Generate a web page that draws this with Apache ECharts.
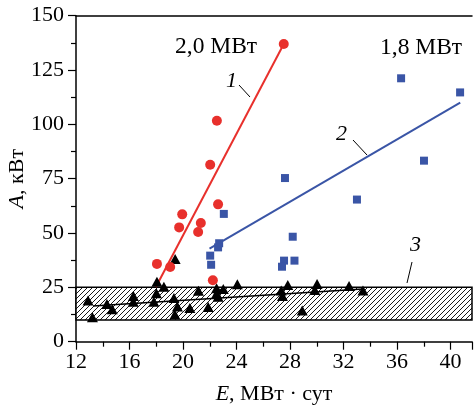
<!DOCTYPE html>
<html>
<head>
<meta charset="utf-8">
<script src="https://cdn.jsdelivr.net/npm/echarts@6/dist/echarts.min.js"></script>
<style>
html,body{margin:0;padding:0;background:#fff;}
#c{width:474px;height:406px;}
</style>
</head>
<body>
<div id="c"></div>
<script>
// ---- data ----
const xTicks = [12, 16, 20, 24, 28, 32, 36, 40];
const yTicks = [0, 25, 50, 75, 100, 125, 150];
const red20 = [
  [27.53, 137.0], [22.53, 101.7], [22.62, 63.2], [22.03, 81.4], [19.94, 58.6],
  [21.33, 54.6], [19.71, 52.6], [21.13, 50.5], [18.05, 35.8], [19.04, 34.4], [22.23, 28.3]
];
const blue18 = [
  [36.30, 121.2], [40.71, 114.7], [38.01, 83.3], [33.00, 65.4], [27.62, 75.3],
  [28.20, 48.3], [23.05, 58.8], [22.70, 45.3], [22.62, 43.4], [22.03, 39.6],
  [22.10, 35.4], [27.55, 37.3], [28.33, 37.3], [27.40, 34.5]
];
const black3 = [
  [12.90, 19.0], [13.23, 11.3], [14.31, 17.3], [14.71, 14.9], [16.29, 21.0],
  [16.28, 18.4], [18.05, 27.6], [18.57, 25.3], [18.01, 22.3], [17.82, 18.4],
  [19.41, 38.1], [19.32, 20.1], [19.58, 16.2], [19.39, 12.5], [20.51, 15.5],
  [21.15, 23.5], [21.88, 16.0], [22.51, 24.6], [22.51, 22.2], [22.62, 20.7],
  [23.01, 24.2], [24.06, 26.4], [27.34, 23.6], [27.43, 21.0], [27.83, 26.1],
  [28.91, 14.4], [30.02, 26.5], [29.85, 23.8], [32.41, 25.6], [33.45, 23.6]
];
const fit1 = [[17.97, 25.2], [27.53, 137.0]];
const fit2 = [[21.98, 42.8], [40.72, 110.0]];
const fit3 = [[13.27, 16.4], [33.43, 24.25]];
const band = [10, 25];

// ---- chart ----
const FONT = 'Liberation Serif';
const chart = echarts.init(document.getElementById('c'));

const pc = document.createElement('canvas');
pc.width = 5; pc.height = 5;
const g = pc.getContext('2d');
g.fillStyle = '#fff'; g.fillRect(0, 0, 5, 5);
g.strokeStyle = '#000'; g.lineWidth = 0.9;
g.beginPath();
g.moveTo(-1, 6); g.lineTo(6, -1);
g.moveTo(-6, 6); g.lineTo(1, -1);
g.moveTo(4, 6); g.lineTo(11, -1);
g.stroke();

chart.setOption({
  animation: false,
  backgroundColor: '#fff',
  grid: {left: 76, top: 15.7, right: 2, bottom: 64.3, containLabel: false, outerBoundsMode: 'none'},
  xAxis: [{
    type: 'value', min: 12, max: 41.6, interval: 4,
    axisLine: {onZero: false, lineStyle: {color: '#000', width: 1.5}},
    axisTick: {show: true, length: 8, lineStyle: {color: '#000', width: 1.2}},
    minorTick: {show: true, splitNumber: 2, length: 5, lineStyle: {color: '#000', width: 1.2}},
    splitLine: {show: false},
    axisLabel: {
      margin: 10, color: '#000', fontFamily: FONT, fontSize: 22,
      showMaxLabel: false,
      formatter: v => xTicks.includes(v) ? String(v) : ''
    },
    name: '{i|E}, МВт · сут',
    nameLocation: 'middle', nameGap: 42, nameMoveOverlap: false,
    nameTextStyle: {color: '#000', fontFamily: FONT, fontSize: 22,
      rich: {i: {fontStyle: 'italic', fontFamily: FONT, fontSize: 22, color: '#000'}}}
  }, {
    type: 'value', min: 12, max: 41.6, position: 'top',
    axisLine: {show: true, onZero: false, lineStyle: {color: '#000', width: 1.5}},
    axisTick: {show: false}, axisLabel: {show: false}, splitLine: {show: false}
  }],
  yAxis: {
    type: 'value', min: 0, max: 150, interval: 25,
    axisLine: {show: true, onZero: false, lineStyle: {color: '#000', width: 1.5}},
    axisTick: {show: true, length: 8, lineStyle: {color: '#000', width: 1.2}},
    minorTick: {show: true, splitNumber: 2, length: 5, lineStyle: {color: '#000', width: 1.2}},
    splitLine: {show: false},
    axisLabel: {
      margin: 12, color: '#000', fontFamily: FONT, fontSize: 22,
      formatter: v => yTicks.includes(v) ? String(v) : ''
    },
    name: '{i|A}, кВт',
    nameLocation: 'middle', nameGap: 48, nameRotate: 90, nameMoveOverlap: false,
    nameTextStyle: {color: '#000', fontFamily: FONT, fontSize: 22,
      rich: {i: {fontStyle: 'italic', fontFamily: FONT, fontSize: 22, color: '#000'}}}
  },
  series: [
    {
      type: 'line', data: [], silent: true,
      markArea: {
        silent: true,
        itemStyle: {color: {image: pc, repeat: 'repeat'}, borderColor: '#000', borderWidth: 1.5, opacity: 1},
        data: [[{yAxis: band[0]}, {yAxis: band[1]}]]
      }
    },
    {type: 'line', data: fit3, symbol: 'none', z: 3,
      lineStyle: {color: '#000', width: 1.6}},
    {type: 'line', data: fit1, symbol: 'none', z: 3,
      lineStyle: {color: '#e8302c', width: 2}},
    {type: 'line', data: fit2, symbol: 'none', z: 3,
      lineStyle: {color: '#3a55a6', width: 2}},
    {type: 'scatter', data: black3, symbol: 'triangle', symbolSize: [11, 10], z: 4,
      itemStyle: {color: '#000', opacity: 1}},
    {type: 'scatter', data: blue18, symbol: 'rect', symbolSize: 8, z: 4,
      itemStyle: {color: '#3a55a6', opacity: 1}},
    {type: 'scatter', data: red20, symbol: 'circle', symbolSize: 10, z: 4,
      itemStyle: {color: '#e8302c', opacity: 1}}
  ],
  graphic: [
    {type: 'text', left: 175, top: 35, style: {text: '2,0 МВт', font: '23.5px "Liberation Serif"', fill: '#000'}},
    {type: 'text', left: 380, top: 36, style: {text: '1,8 МВт', font: '23.5px "Liberation Serif"', fill: '#000'}},
    {type: 'text', left: 226, top: 70, style: {text: '1', font: 'italic 22px "Liberation Serif"', fill: '#000'}},
    {type: 'text', left: 336, top: 123, style: {text: '2', font: 'italic 22px "Liberation Serif"', fill: '#000'}},
    {type: 'text', left: 410, top: 234, style: {text: '3', font: 'italic 22px "Liberation Serif"', fill: '#000'}},
    {type: 'line', shape: {x1: 239, y1: 85, x2: 250, y2: 97}, style: {stroke: '#000', lineWidth: 1}},
    {type: 'line', shape: {x1: 353, y1: 140, x2: 367, y2: 155}, style: {stroke: '#000', lineWidth: 1}},
    {type: 'line', shape: {x1: 412, y1: 262, x2: 407, y2: 283}, style: {stroke: '#000', lineWidth: 1}}
  ]
});
</script>
</body>
</html>
